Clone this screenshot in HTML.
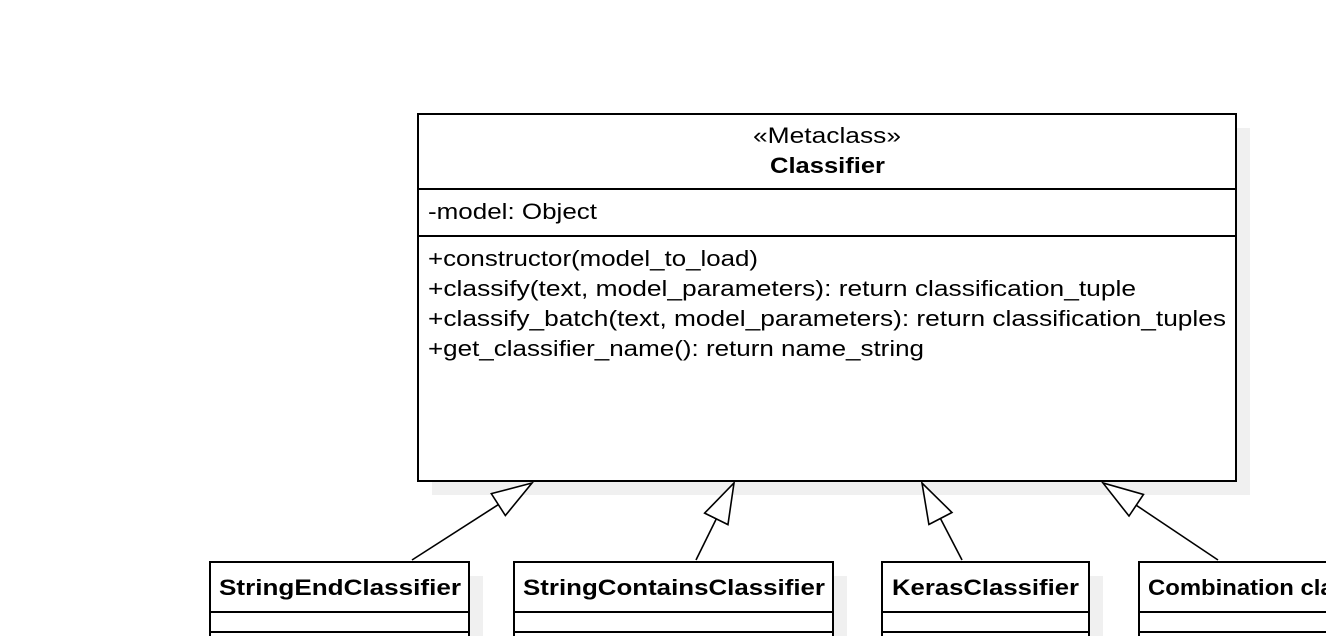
<!DOCTYPE html>
<html><head><meta charset="utf-8"><style>
html,body{margin:0;padding:0;background:#fff;overflow:hidden}
svg{display:block}
text{font-family:"Liberation Sans",Arial,sans-serif;font-size:22px;fill:#000}
.b{font-weight:bold}
</style></head><body>
<svg width="1326" height="636" viewBox="0 0 1326 636" xmlns="http://www.w3.org/2000/svg">
<defs>
<marker id="tri" markerUnits="userSpaceOnUse" markerWidth="50" markerHeight="40" refX="41" refY="14" orient="auto">
<path d="M1,1 L41,14 L1,27 Z" fill="#fff" stroke="#000" stroke-width="1.6"/>
</marker>
</defs>
<rect x="432" y="128" width="818" height="367" fill="#f0f0f0"/>
<rect x="224" y="576" width="259" height="80" fill="#f0f0f0"/>
<rect x="528" y="576" width="319" height="80" fill="#f0f0f0"/>
<rect x="896" y="576" width="207" height="80" fill="#f0f0f0"/>
<rect x="1153" y="576" width="200" height="80" fill="#f0f0f0"/>
<rect x="418" y="114" width="818" height="367" fill="#fff" stroke="#000" stroke-width="2"/>
<line x1="418" y1="189" x2="1236" y2="189" stroke="#000" stroke-width="2"/>
<line x1="418" y1="236" x2="1236" y2="236" stroke="#000" stroke-width="2"/>
<text x="753" y="143" textLength="148" lengthAdjust="spacingAndGlyphs">«Metaclass»</text>
<text x="770" y="173" class="b" textLength="115" lengthAdjust="spacingAndGlyphs">Classifier</text>
<text x="428" y="219" textLength="169" lengthAdjust="spacingAndGlyphs">-model: Object</text>
<text x="428" y="266" textLength="330" lengthAdjust="spacingAndGlyphs">+constructor(model_to_load)</text>
<text x="428" y="296" textLength="708" lengthAdjust="spacingAndGlyphs">+classify(text, model_parameters): return classification_tuple</text>
<text x="428" y="326" textLength="798" lengthAdjust="spacingAndGlyphs">+classify_batch(text, model_parameters): return classification_tuples</text>
<text x="428" y="356" textLength="496" lengthAdjust="spacingAndGlyphs">+get_classifier_name(): return name_string</text>
<g fill="#fff" stroke="#000" stroke-width="2">
<rect x="210" y="562" width="259" height="90"/>
<rect x="514" y="562" width="319" height="90"/>
<rect x="882" y="562" width="207" height="90"/>
<rect x="1139" y="562" width="220" height="90"/>
<path d="M210 612H469M210 632H469M514 612H833M514 632H833M882 612H1089M882 632H1089M1139 612H1326M1139 632H1326"/>
</g>
<text x="219" y="595" class="b" textLength="242" lengthAdjust="spacingAndGlyphs">StringEndClassifier</text>
<text x="523" y="595" class="b" textLength="302" lengthAdjust="spacingAndGlyphs">StringContainsClassifier</text>
<text x="892" y="595" class="b" textLength="187" lengthAdjust="spacingAndGlyphs">KerasClassifier</text>
<text x="1148" y="595" class="b" textLength="256" lengthAdjust="spacingAndGlyphs">Combination classifier</text>
<g stroke="#000" stroke-width="1.6" fill="none">
<line x1="412" y1="560" x2="532" y2="483" marker-end="url(#tri)"/>
<line x1="696" y1="560" x2="734" y2="483" marker-end="url(#tri)"/>
<line x1="962" y1="560" x2="922" y2="483" marker-end="url(#tri)"/>
<line x1="1218" y1="560" x2="1103" y2="483" marker-end="url(#tri)"/>
</g>
</svg>
</body></html>
